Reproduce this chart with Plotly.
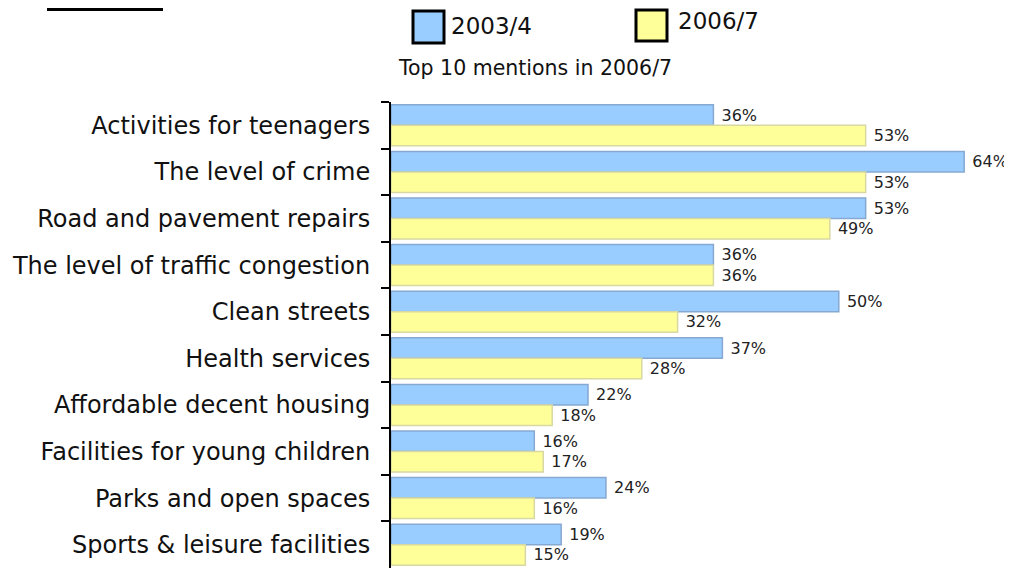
import plotly.graph_objects as go

categories = [
    "Activities for teenagers",
    "The level of crime",
    "Road and pavement repairs",
    "The level of traffic congestion",
    "Clean streets",
    "Health services",
    "Affordable decent housing",
    "Facilities for young children",
    "Parks and open spaces",
    "Sports & leisure facilities",
]
series_names = ["2003/4", "2006/7"]
values_2003 = [36, 64, 53, 36, 50, 37, 22, 16, 24, 19]
values_2006 = [53, 53, 49, 36, 32, 28, 18, 17, 16, 15]
subtitle = "Top 10 mentions in 2006/7"

# page body has an 8px margin; figure is placed at (8, 8) on screen
OFF = 8
W, H = 1012 - OFF, 568 - OFF
L, R, T, B = 391 - OFF, 12, 102 - OFF, 0
FONT = "DejaVu Sans"


def px(x):
    """screen x -> paper x"""
    return (x - OFF - L) / (W - L - R)


def py(y):
    """screen y -> paper y"""
    return 1 - (y - OFF - T) / (H - T - B)


fig = go.Figure()
fig.add_trace(go.Bar(
    y=categories, x=values_2003, name=series_names[0], orientation="h",
    marker=dict(color="#99ccff", line=dict(color="#86a9d2", width=1.5)),
    texttemplate="\u00a0%{x}%", textposition="outside", constraintext="none",
    textfont=dict(family=FONT, size=16, color="#222"), cliponaxis=False,
))
fig.add_trace(go.Bar(
    y=categories, x=values_2006, name=series_names[1], orientation="h",
    marker=dict(color="#ffff99", line=dict(color="#d8d8a2", width=1.5)),
    texttemplate="\u00a0%{x}%", textposition="outside", constraintext="none",
    textfont=dict(family=FONT, size=16, color="#222"), cliponaxis=False,
))

shapes = [
    # legend swatches
    dict(type="rect", xref="paper", yref="paper",
         x0=px(413), x1=px(444), y0=py(43), y1=py(11),
         fillcolor="#99ccff", line=dict(color="black", width=3)),
    dict(type="rect", xref="paper", yref="paper",
         x0=px(636), x1=px(667), y0=py(41), y1=py(10),
         fillcolor="#ffff99", line=dict(color="black", width=3)),
    # remnant underline of cut-off heading at top-left
    dict(type="line", xref="paper", yref="paper",
         x0=px(47), x1=px(163), y0=py(9.5), y1=py(9.5),
         line=dict(color="black", width=3)),
]

annotations = [
    dict(text=series_names[0], xref="paper", yref="paper", x=px(449), y=py(26),
         xanchor="left", yanchor="middle", showarrow=False,
         font=dict(family=FONT, size=23, color="#111")),
    dict(text=series_names[1], xref="paper", yref="paper", x=px(676), y=py(21),
         xanchor="left", yanchor="middle", showarrow=False,
         font=dict(family=FONT, size=23, color="#111")),
    dict(text=subtitle, xref="paper", yref="paper", x=px(396), y=py(68),
         xanchor="left", yanchor="middle", showarrow=False,
         font=dict(family=FONT, size=20.5, color="#111")),
]

fig.update_layout(
    width=W, height=H,
    margin=dict(l=L, r=R, t=T, b=B, pad=0),
    paper_bgcolor="white", plot_bgcolor="white",
    barmode="group", bargap=0.12, bargroupgap=0,
    showlegend=False,
    shapes=shapes, annotations=annotations,
    xaxis=dict(range=[0, 68], visible=False, showgrid=False, zeroline=False),
    yaxis=dict(
        type="category", categoryorder="array", categoryarray=categories,
        autorange="reversed",
        ticks="outside", tickson="boundaries", ticklen=8, tickwidth=2,
        tickcolor="black", showline=True, linewidth=2, linecolor="black",
        showgrid=False, ticklabelstandoff=14,
        tickfont=dict(family=FONT, size=24, color="#111"),
    ),
)

fig.write_html("out.html")
